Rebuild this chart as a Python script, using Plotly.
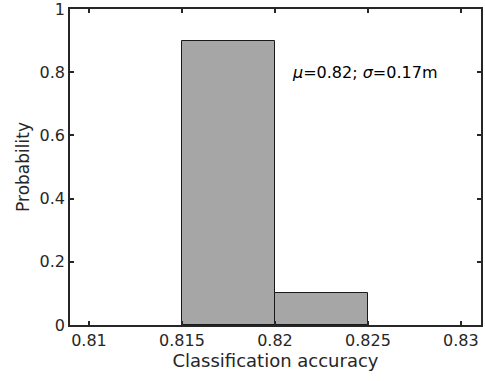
import plotly.graph_objects as go

bin_centers = [0.8175, 0.8225]
probabilities = [0.9, 0.1]
bin_width = 0.005
x_ticks = [0.81, 0.815, 0.82, 0.825, 0.83]
x_tick_labels = ["0.81", "0.815", "0.82", "0.825", "0.83"]
y_ticks = [0, 0.2, 0.4, 0.6, 0.8, 1]
y_tick_labels = ["0", "0.2", "0.4", "0.6", "0.8", "1"]

fig = go.Figure()
fig.add_trace(go.Bar(
    x=bin_centers, y=probabilities, width=[bin_width] * len(bin_centers),
    marker=dict(color="#a6a6a6", line=dict(color="#1a1a1a", width=1)),
    showlegend=False,
))

axis_common = dict(
    showline=True, linecolor="#262626", linewidth=1.5, mirror="ticks",
    ticks="inside", ticklen=4, tickwidth=1.5, tickcolor="#262626",
    showgrid=False, zeroline=False, automargin=False,
    ticklabeloverflow="allow",
    tickfont=dict(family="DejaVu Sans", size=16, color="#262626"),
)

fig.update_layout(
    width=485, height=381,
    margin=dict(l=70, r=4, t=9, b=56),
    plot_bgcolor="white", paper_bgcolor="white",
    bargap=0,
    xaxis=dict(range=[0.80898, 0.83108], tickvals=x_ticks, ticktext=x_tick_labels,
               title=dict(text="Classification accuracy", standoff=2,
                          font=dict(family="DejaVu Sans", size=18, color="#262626")),
               **axis_common),
    yaxis=dict(range=[0, 1], tickvals=y_ticks, ticktext=y_tick_labels,
               title=dict(text="Probability", standoff=6,
                          font=dict(family="DejaVu Sans", size=17, color="#262626")),
               **axis_common),
    annotations=[dict(
        x=0.8208, y=0.8, xref="x", yref="y", xanchor="left", yanchor="middle",
        text="<i>μ</i>=0.82; <i>σ</i>=0.17m", showarrow=False,
        font=dict(family="DejaVu Sans", size=16, color="black"),
    )],
)

fig.write_html("out.html", config={"displayModeBar": False},
               post_script="document.body.style.margin='0';")
